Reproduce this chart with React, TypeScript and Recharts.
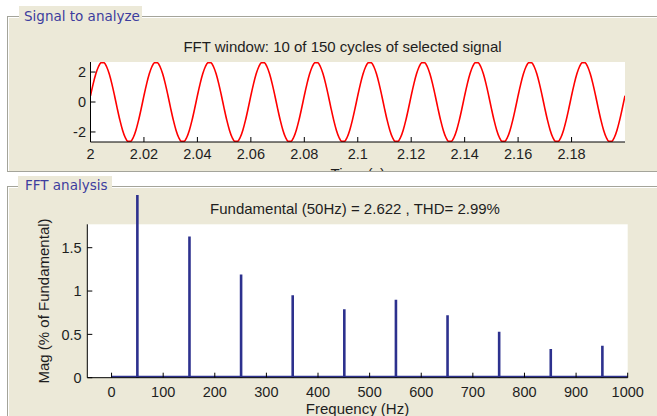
import React from "react";
import {
  ComposedChart, Line, Bar, XAxis, YAxis, CartesianGrid, ReferenceLine,
} from "recharts";

// signal window: 10 cycles of 50 Hz, one sample per ms starting at t = 2 s
const signalStart = 2;
const sampleStep = 0.001;
const signalValues = [
  0.42, 1.21, 1.88, 2.37, 2.63, 2.63, 2.37, 1.88, 1.21, 0.42, -0.42, -1.21, -1.88, -2.37, -2.63, -2.63, -2.37, -1.88, -1.21, -0.42,
  0.42, 1.21, 1.88, 2.37, 2.63, 2.63, 2.37, 1.88, 1.21, 0.42, -0.42, -1.21, -1.88, -2.37, -2.63, -2.63, -2.37, -1.88, -1.21, -0.42,
  0.42, 1.21, 1.88, 2.37, 2.63, 2.63, 2.37, 1.88, 1.21, 0.42, -0.42, -1.21, -1.88, -2.37, -2.63, -2.63, -2.37, -1.88, -1.21, -0.42,
  0.42, 1.21, 1.88, 2.37, 2.63, 2.63, 2.37, 1.88, 1.21, 0.42, -0.42, -1.21, -1.88, -2.37, -2.63, -2.63, -2.37, -1.88, -1.21, -0.42,
  0.42, 1.21, 1.88, 2.37, 2.63, 2.63, 2.37, 1.88, 1.21, 0.42, -0.42, -1.21, -1.88, -2.37, -2.63, -2.63, -2.37, -1.88, -1.21, -0.42,
  0.42, 1.21, 1.88, 2.37, 2.63, 2.63, 2.37, 1.88, 1.21, 0.42, -0.42, -1.21, -1.88, -2.37, -2.63, -2.63, -2.37, -1.88, -1.21, -0.42,
  0.42, 1.21, 1.88, 2.37, 2.63, 2.63, 2.37, 1.88, 1.21, 0.42, -0.42, -1.21, -1.88, -2.37, -2.63, -2.63, -2.37, -1.88, -1.21, -0.42,
  0.42, 1.21, 1.88, 2.37, 2.63, 2.63, 2.37, 1.88, 1.21, 0.42, -0.42, -1.21, -1.88, -2.37, -2.63, -2.63, -2.37, -1.88, -1.21, -0.42,
  0.42, 1.21, 1.88, 2.37, 2.63, 2.63, 2.37, 1.88, 1.21, 0.42, -0.42, -1.21, -1.88, -2.37, -2.63, -2.63, -2.37, -1.88, -1.21, -0.42,
  0.42, 1.21, 1.88, 2.37, 2.63, 2.63, 2.37, 1.88, 1.21, 0.42, -0.42, -1.21, -1.88, -2.37, -2.63, -2.63, -2.37, -1.88, -1.21, -0.42,
  0.42,
];
const timeTicks = [2, 2.02, 2.04, 2.06, 2.08, 2.1, 2.12, 2.14, 2.16, 2.18];
const signalTicks = [-2, 0, 2];

// FFT: fundamental + odd harmonics, magnitude in % of fundamental
const fundamentalFreq = 50;
const fundamentalMag = 100;
const harmonicFreqs = [150, 250, 350, 450, 550, 650, 750, 850, 950];
const harmonicMags = [1.63, 1.19, 0.95, 0.79, 0.9, 0.72, 0.53, 0.33, 0.37];
const residualMag = 0.012;
const spectrumRange = [0, 1000];
const freqTicks = [0, 100, 200, 300, 400, 500, 600, 700, 800, 900, 1000];
const magTicks = [0, 0.5, 1, 1.5];

const FONT = '"Liberation Sans", Arial, sans-serif';
const PANEL_FONT = '"DejaVu Sans", Tahoma, sans-serif';
const BEIGE = "#ECE9D8";
const NAVY = "#2D318E";
const tickStyle = { fill: "#1e1e1e", fontSize: 14.5, fontFamily: FONT };

export default function App() {
  const signalData = signalValues.map((v, i) => ({ t: signalStart + i * sampleStep, v }));
  const fftData = harmonicFreqs.map((f, i) => ({ f, m: harmonicMags[i] }));

  return (
    <div style={{ position: "absolute", left: 0, top: 0, width: 657, height: 416, overflow: "hidden", background: "#fff" }}>
      {/* group boxes */}
      <div style={{
        position: "absolute", left: 7, top: 16, width: 700, height: 156, boxSizing: "border-box",
        background: BEIGE, borderTop: "1px solid #a4a49a", borderLeft: "1px solid #a4a49a", borderBottom: "1px solid #a4a49a",
        boxShadow: "inset 1px 1px 0 #fff",
      }} />
      <div style={{
        position: "absolute", left: 7, top: 186, width: 700, height: 300, boxSizing: "border-box",
        background: BEIGE, borderTop: "1px solid #a4a49a", borderLeft: "1px solid #a4a49a",
        boxShadow: "inset 1px 1px 0 #fff",
      }} />

      {/* signal plot */}
      <div style={{ position: "absolute", left: 0, top: 30, width: 657, height: 141, overflow: "hidden" }}>
        <ComposedChart width={657} height={150} data={signalData} margin={{ top: 32, right: 32, bottom: 0, left: 0 }}>
          <CartesianGrid horizontal={false} vertical={false} fill="#fff" fillOpacity={1} />
          <XAxis
            dataKey="t" type="number" domain={[2, 2.2]} ticks={timeTicks} interval={0} allowDataOverflow
            height={38} stroke="#000" tickSize={-5} tickMargin={11.5} tick={tickStyle}
            label={{ value: "Time (s)", position: "insideBottom", offset: 1, fill: "#1e1e1e", fontSize: 15, fontFamily: FONT }}
          />
          <XAxis xAxisId="top" orientation="top" type="number" domain={[2, 2.2]} ticks={timeTicks} interval={0}
            allowDataOverflow height={0} stroke="#000" tickSize={-5} tick={false} />
          <YAxis
            type="number" domain={[-2.67, 2.67]} ticks={signalTicks} interval={0} allowDataOverflow
            width={90.5} stroke="#000" tickSize={-5} tickMargin={9.5} tick={tickStyle}
          />
          <YAxis yAxisId="right" orientation="right" type="number" domain={[-2.67, 2.67]} ticks={signalTicks}
            interval={0} allowDataOverflow width={0} stroke="#000" tickSize={-5} tick={false} />
          <Line type="monotone" dataKey="v" stroke="#ff0000" strokeWidth={1.6} dot={false} isAnimationActive={false} />
        </ComposedChart>
      </div>

      {/* FFT plot */}
      <div style={{ position: "absolute", left: 0, top: 195, width: 657, height: 221, overflow: "hidden" }}>
        <ComposedChart width={657} height={221} data={fftData} margin={{ top: 29.3, right: 29.3, bottom: 0, left: 0 }}>
          <CartesianGrid horizontal={false} vertical={false} fill="#fff" fillOpacity={1} />
          <XAxis
            dataKey="f" type="number" domain={[-47, 1000]} ticks={freqTicks} interval={0} allowDataOverflow
            height={38.3} stroke="#000" tickSize={-5} tickMargin={13.8} tick={tickStyle}
            label={{ value: "Frequency (Hz)", position: "insideBottom", offset: 2, fill: "#1e1e1e", fontSize: 15, fontFamily: FONT }}
          />
          <XAxis xAxisId="top" orientation="top" type="number" domain={[-47, 1000]} ticks={freqTicks} interval={0}
            allowDataOverflow height={0} stroke="#000" tickSize={-5} tick={false} />
          <YAxis
            type="number" domain={[0, 1.77]} ticks={magTicks} interval={0} allowDataOverflow
            width={87.3} stroke="#000" tickSize={-5} tickMargin={10.6} tick={tickStyle}
            label={{ value: "Mag (% of Fundamental)", angle: -90, position: "center", fill: "#1e1e1e", fontSize: 15, fontFamily: FONT }}
          />
          <YAxis yAxisId="right" orientation="right" type="number" domain={[0, 1.77]} ticks={magTicks}
            interval={0} allowDataOverflow width={0} stroke="#000" tickSize={-5} tick={false} />
          <ReferenceLine
            segment={[{ x: spectrumRange[0], y: residualMag }, { x: spectrumRange[1], y: residualMag }]}
            stroke={NAVY} strokeWidth={1.6}
          />
          <Bar dataKey="m" barSize={2.6} fill={NAVY} isAnimationActive={false} />
          <ReferenceLine
            segment={[{ x: fundamentalFreq, y: 0 }, { x: fundamentalFreq, y: fundamentalMag }]}
            ifOverflow="visible" stroke={NAVY} strokeWidth={2.6}
          />
        </ComposedChart>
      </div>

      {/* titles and group box captions */}
      <svg width={657} height={416} style={{ position: "absolute", left: 0, top: 0, pointerEvents: "none" }}>
        <rect x={19} y={6} width={123} height={18} fill={BEIGE} />
        <text x={24} y={20.7} fill="#3d3d9e" fontSize={13.5} fontFamily={PANEL_FONT}>Signal to analyze</text>
        <rect x={18} y={176} width={94} height={16} fill={BEIGE} />
        <text x={25} y={190} fill="#3d3d9e" fontSize={13.5} fontFamily={PANEL_FONT}>FFT analysis</text>
        <text x={342.5} y={52.3} textAnchor="middle" fill="#1e1e1e" fontSize={15} fontFamily={FONT}>
          FFT window: 10 of 150 cycles of selected signal
        </text>
        <text x={355} y={213.5} textAnchor="middle" fill="#1e1e1e" fontSize={15} fontFamily={FONT}>
          Fundamental (50Hz) = 2.622 , THD= 2.99%
        </text>
      </svg>
    </div>
  );
}
